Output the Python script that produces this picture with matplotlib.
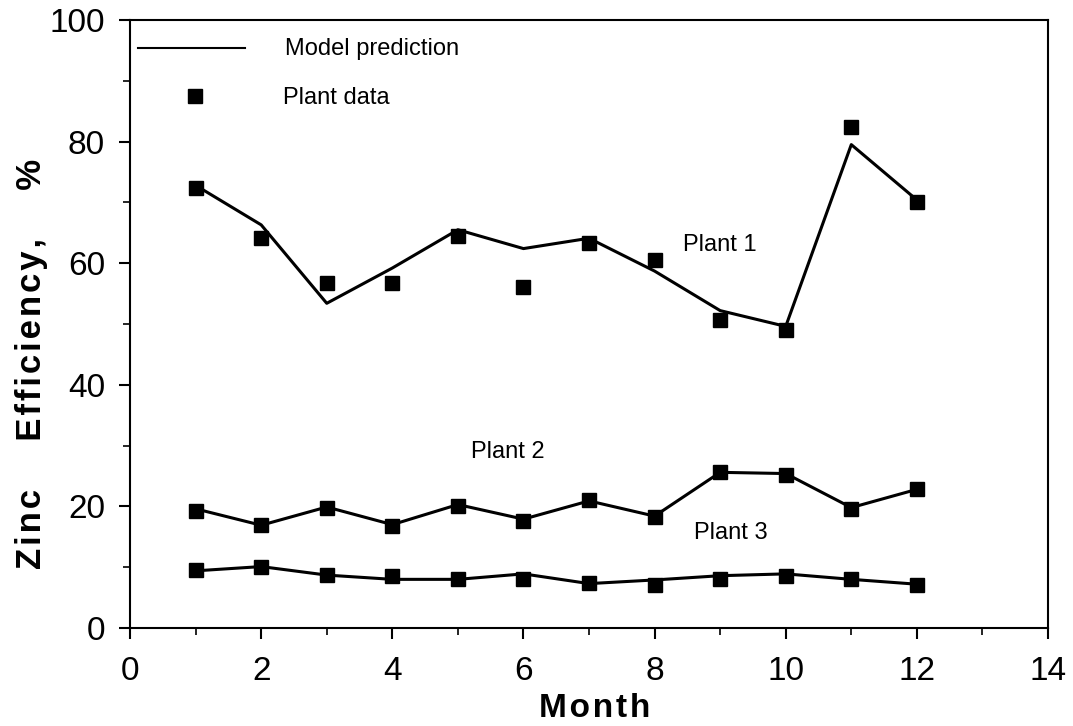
import matplotlib
matplotlib.use("Agg")
from matplotlib import pyplot as plt
from matplotlib.ticker import MultipleLocator

# months and the three plants
months = [1, 2, 3, 4, 5, 6, 7, 8, 9, 10, 11, 12]

plant1_data  = [72.4, 64.1, 56.7, 56.7, 64.4, 56.1, 63.3, 60.5, 50.7, 49.0, 82.4, 70.0]
plant1_model = [72.8, 66.3, 53.4, 59.2, 65.5, 62.4, 64.1, 58.7, 52.2, 49.6, 79.5, 70.4]

plant2_data  = [19.3, 16.9, 19.7, 16.8, 20.0, 17.6, 21.0, 18.2, 25.6, 25.2, 19.6, 22.8]
plant2_model = [19.6, 16.9, 19.9, 17.0, 20.3, 17.9, 20.9, 18.4, 25.6, 25.4, 19.8, 22.8]

plant3_data  = [9.5, 10.1, 8.7, 8.6, 8.0, 8.0, 7.4, 7.1, 8.1, 8.5, 8.0, 7.1]
plant3_model = [9.4, 10.1, 8.7, 8.0, 8.0, 8.9, 7.3, 7.9, 8.6, 8.9, 8.0, 7.2]

FONT = "Liberation Sans"
HS = "\u200a"  # hair space, for the letter spacing of the axis titles

fig = plt.figure(figsize=(10.73, 7.26), dpi=100)
ax = fig.add_axes([0.1212, 0.135, 0.8555, 0.8375])

for model, data in [(plant1_model, plant1_data),
                    (plant2_model, plant2_data),
                    (plant3_model, plant3_data)]:
    ax.plot(months, model, color="black", lw=2.2, zorder=2)
    ax.plot(months, data, "s", color="black", ms=9.5, zorder=3)

# legend drawn by hand like the original
ax.plot([0.12, 1.75], [95.4, 95.4], color="black", lw=1.5)
ax.text(2.36, 95.2, "Model prediction", fontsize=17, family=FONT, va="center")
ax.plot([0.99], [87.5], "s", color="black", ms=9.5)
ax.text(2.34, 87.2, "Plant data", fontsize=17, family=FONT, va="center")

# series labels
ax.text(8.44, 63.0, "Plant 1", fontsize=17, family=FONT, va="center")
ax.text(5.2, 29.0, "Plant 2", fontsize=17, family=FONT, va="center")
ax.text(8.6, 15.6, "Plant 3", fontsize=17, family=FONT, va="center")

ax.set_xlim(0, 14)
ax.set_ylim(0, 100)
ax.xaxis.set_major_locator(MultipleLocator(2))
ax.xaxis.set_minor_locator(MultipleLocator(1))
ax.yaxis.set_major_locator(MultipleLocator(20))
ax.yaxis.set_minor_locator(MultipleLocator(10))
ax.tick_params(which="major", direction="out", length=8, width=1.5, labelsize=24)
ax.tick_params(which="minor", direction="out", length=5, width=1.2)
ax.tick_params(axis="x", which="major", pad=12)
ax.tick_params(axis="y", which="major", pad=10)
for lab in ax.get_xticklabels() + ax.get_yticklabels():
    lab.set_family(FONT)

for sp in ax.spines.values():
    sp.set_linewidth(1.5)

xlab = HS.join("Month")
gap = "     "
ylab = HS.join("Zinc") + gap + HS.join("Efficiency,") + gap + "%"
ax.set_xlabel(xlab, fontsize=24, fontweight="bold", family=FONT)
ax.xaxis.set_label_coords(0.5065, -0.107)
ax.set_ylabel(ylab, fontsize=25, fontweight="bold", family=FONT)
ax.yaxis.set_label_coords(-0.089, 0.435)

fig.savefig("out.png", dpi=100)
